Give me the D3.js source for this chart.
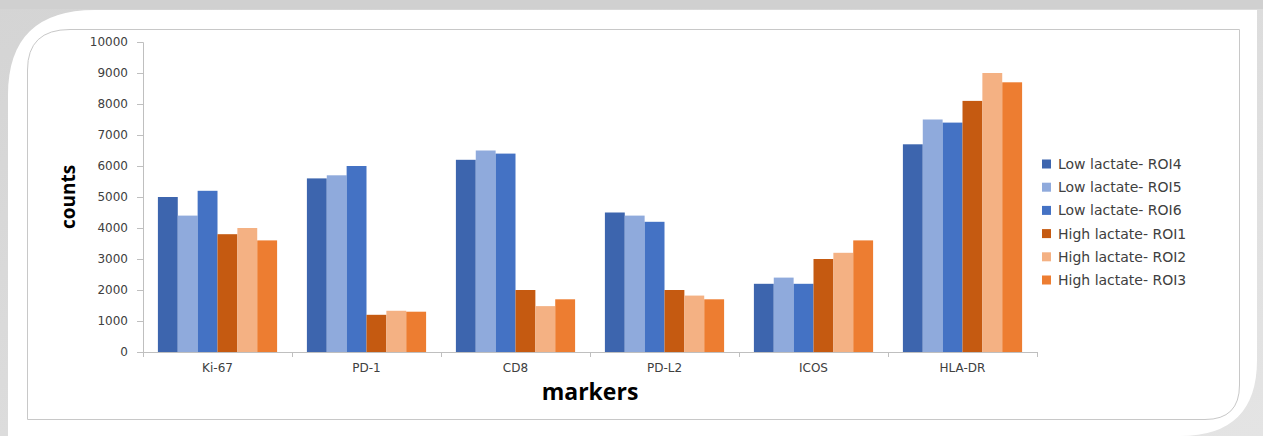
<!DOCTYPE html>
<html><head><meta charset="utf-8">
<script src="https://cdn.jsdelivr.net/npm/d3@7"></script>
<style>html,body{margin:0;padding:0;background:#fff;}svg{display:block;}</style>
</head><body><svg id="c" width="1263" height="436"></svg>
<script>
const categories = ["Ki-67","PD-1","CD8","PD-L2","ICOS","HLA-DR"];
const seriesNames = ["Low lactate- ROI4","Low lactate- ROI5","Low lactate- ROI6","High lactate- ROI1","High lactate- ROI2","High lactate- ROI3"];
const roi4 = [5000,5600,6200,4500,2200,6700];
const roi5 = [4400,5700,6500,4400,2400,7500];
const roi6 = [5200,6000,6400,4200,2200,7400];
const roi1 = [3800,1200,2000,2000,3000,8100];
const roi2 = [4000,1330,1480,1820,3200,9000];
const roi3 = [3600,1300,1700,1700,3600,8700];
const yTicks = [0,1000,2000,3000,4000,5000,6000,7000,8000,9000,10000];
const colors = ["#3d65ae","#8faadc","#4472c4","#c55a11","#f4b183","#ed7d31"];
const seriesValues = [roi4,roi5,roi6,roi1,roi2,roi3];

const svg = d3.select("#c");
const defs = svg.append("defs");
const lg = defs.append("linearGradient").attr("id","bg").attr("x1","0").attr("y1","0").attr("x2","1").attr("y2","1");
lg.append("stop").attr("offset","0").attr("stop-color","#d4d4d4");
lg.append("stop").attr("offset","1").attr("stop-color","#e4e4e4");
svg.append("rect").attr("width",1263).attr("height",436).attr("fill","url(#bg)");
svg.append("rect").attr("x",0).attr("y",0).attr("width",1263).attr("height",9).attr("fill","#d0d0d0");
svg.append("path").attr("fill","#ffffff")
  .attr("d","M8,95 Q8,10 95,10 L1257,10 L1257,360 Q1257,436 1180,436 L8,436 Z");
svg.append("path").attr("fill","#ffffff").attr("stroke","#c8c8c8").attr("stroke-width",1)
  .attr("d","M27.5,70 Q27.5,29.5 70,29.5 L1239.5,29.5 L1239.5,385 Q1239.5,419.5 1205,419.5 L27.5,419.5 Z");

const x0 = 143, x1 = 1037, yTop = 42, yBase = 352;
const x = d3.scaleBand().domain(categories).range([x0,x1]).paddingInner(0.2).paddingOuter(0.1);
const xs = d3.scaleBand().domain(seriesNames).range([0,x.bandwidth()]);
const y = d3.scaleLinear().domain([0,10000]).range([yBase,yTop]);

const fontMain = "'DejaVu Sans', sans-serif";
const ya = svg.append("g").attr("transform",`translate(${x0},0)`)
  .call(d3.axisLeft(y).tickValues(yTicks).tickFormat(d3.format("d")).tickSize(6).tickPadding(9));
ya.select(".domain").attr("stroke","#bfbfbf");
ya.selectAll(".tick line").attr("stroke","#bfbfbf");
ya.selectAll(".tick text").attr("fill","#404040").attr("font-size","12px").attr("font-family",fontMain);

seriesValues.forEach((vals,si)=>{
  svg.append("g").selectAll("rect").data(categories).join("rect")
    .attr("x",c=>x(c)+xs(seriesNames[si]))
    .attr("width",xs.bandwidth())
    .attr("y",(c,i)=>y(vals[i]))
    .attr("height",(c,i)=>yBase-y(vals[i]))
    .attr("fill",colors[si]);
});

const step = (x1-x0)/categories.length;
svg.append("line").attr("x1",x0).attr("x2",x1).attr("y1",yBase+0.5).attr("y2",yBase+0.5).attr("stroke","#bfbfbf");
d3.range(categories.length+1).forEach(i=>{
  svg.append("line").attr("x1",x0+i*step+0.5).attr("x2",x0+i*step+0.5).attr("y1",yBase).attr("y2",yBase+5).attr("stroke","#bfbfbf");
});
svg.append("g").selectAll("text").data(categories).join("text")
  .attr("x",c=>x(c)+x.bandwidth()/2).attr("y",372)
  .attr("text-anchor","middle").attr("font-size","12px").attr("font-family",fontMain).attr("fill","#404040")
  .text(c=>c);

svg.append("text").attr("x",590).attr("y",400).attr("text-anchor","middle")
  .attr("font-family","'Open Sans', sans-serif").attr("font-weight","bold").attr("font-size","23px").attr("fill","#000").text("markers");
svg.append("text").attr("transform","translate(75,197) rotate(-90)").attr("text-anchor","middle")
  .attr("font-family","'Open Sans', sans-serif").attr("font-weight","bold").attr("font-size","19px").attr("fill","#000").text("counts");

const lgG = svg.append("g");
seriesNames.forEach((s,i)=>{
  const yy = 164 + i*23.2;
  lgG.append("rect").attr("x",1042).attr("y",yy-4.5).attr("width",9).attr("height",9).attr("fill",colors[i]);
  lgG.append("text").attr("x",1058).attr("y",yy+5).attr("font-size","14px").attr("font-family",fontMain).attr("fill","#404040").text(s);
});
</script></body></html>
